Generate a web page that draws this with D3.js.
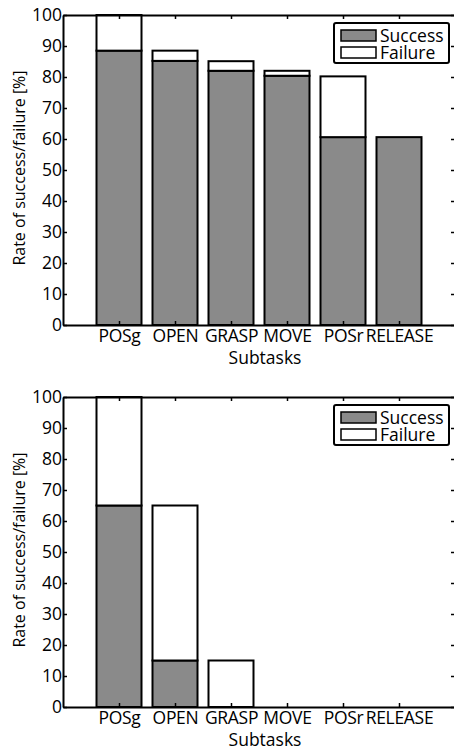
<!DOCTYPE html>
<html>
<head>
<meta charset="utf-8">
<script src="https://cdn.jsdelivr.net/npm/d3@7"></script>
<style>
  body { margin: 0; background: #fff; }
  text { font-family: "Open Sans", sans-serif; fill: #000; }
</style>
</head>
<body>
<svg id="canvas" width="454" height="751"></svg>
<script>
// subtasks on the x axis
let subtasks = ['POSg', 'OPEN', 'GRASP', 'MOVE', 'POSr', 'RELEASE']
let yTicks = [0, 10, 20, 30, 40, 50, 60, 70, 80, 90, 100]

// top panel
let successTop = [88.5, 85.2, 82, 80.4, 60.6, 60.6]
let failureTop = [11.5, 3.3, 3.1, 1.6, 19.6, 0]

// bottom panel
let successBottom = [65, 15, 0, 0, 0, 0]
let failureBottom = [35, 50, 15, 0, 0, 0]

let canvas = d3.select('#canvas')
let grey = '#8a8a8a'

let drawPanel = (top, success, failure) => {
    let left = 63, right = 455, height = 310
    let bottom = top + height

    let x = d3.scaleLinear().domain([0, 7]).range([left, right])
    let y = d3.scaleLinear().domain([0, 100]).range([bottom, top])

    let rows = subtasks.map((name, i) => {
        return { name: name, success: success[i], failure: failure[i] }
    })
    let stack = d3.stack().keys(['success', 'failure'])(rows)

    let g = canvas.append('g')
    let barW = 45

    // stacked bars, skip zero height ones
    stack.forEach((layer) => {
        g.selectAll(null)
         .data(layer.filter(d => d[1] - d[0] > 0))
         .enter()
         .append('rect')
         .attr('x', (d) => x(subtasks.indexOf(d.data.name) + 1) - barW / 2)
         .attr('y', (d) => y(d[1]))
         .attr('width', barW)
         .attr('height', (d) => y(d[0]) - y(d[1]))
         .attr('fill', layer.key == 'success' ? grey : '#fff')
         .attr('stroke', '#000')
         .attr('stroke-width', 2)
    })

    // axes, matlab style with ticks pointing inwards
    let xAxis = d3.axisBottom(x)
                  .tickValues([1, 2, 3, 4, 5, 6])
                  .tickFormat((d) => subtasks[d - 1])
                  .tickSizeInner(-4).tickSizeOuter(0)
    let gx = g.append('g').attr('transform', 'translate(0,' + bottom + ')').call(xAxis)
    gx.selectAll('text')
      .attr('y', 17).attr('dy', 0)
      .style('font-size', '17.5px')
      .style('letter-spacing', '-0.3px')

    let xTop = d3.axisTop(x).tickValues([1, 2, 3, 4, 5, 6]).tickFormat('')
                 .tickSizeInner(-4).tickSizeOuter(0)
    g.append('g').attr('transform', 'translate(0,' + top + ')').call(xTop)

    let yAxis = d3.axisLeft(y).tickValues(yTicks)
                  .tickSizeInner(-4).tickSizeOuter(0).tickPadding(1)
    let gy = g.append('g').attr('transform', 'translate(' + left + ',0)').call(yAxis)
    gy.selectAll('text').style('font-size', '17.5px')

    let yRight = d3.axisRight(y).tickValues(yTicks).tickFormat('')
                   .tickSizeInner(-4).tickSizeOuter(0)
    g.append('g').attr('transform', 'translate(' + right + ',0)').call(yRight)

    g.selectAll('.domain').attr('stroke', '#000').attr('stroke-width', 2)
    g.selectAll('.tick line').attr('stroke', '#000').attr('stroke-width', 1.5)

    // titles
    g.append('text')
     .attr('x', 265)
     .attr('y', bottom + 39)
     .attr('text-anchor', 'middle')
     .style('font-size', '17.5px')
     .text('Subtasks')

    g.append('text')
     .attr('transform', 'translate(25,' + (top + 153) + ') rotate(-90)')
     .attr('text-anchor', 'middle')
     .style('font-size', '16px')
     .text('Rate of success/failure [%]')

    // legend
    let legend = g.append('g').attr('transform', 'translate(334,' + (top + 8) + ')')
    legend.append('rect')
          .attr('width', 115).attr('height', 40).attr('rx', 2)
          .attr('fill', '#fff').attr('stroke', '#000').attr('stroke-width', 2)
    let items = [['Success', grey], ['Failure', '#fff']]
    items.forEach((item, i) => {
        legend.append('rect')
              .attr('x', 7).attr('y', 7 + i * 17)
              .attr('width', 35).attr('height', 11)
              .attr('fill', item[1]).attr('stroke', '#000').attr('stroke-width', 1.5)
        legend.append('text')
              .attr('x', 46).attr('y', 19 + i * 17)
              .style('font-size', '17.5px')
              .text(item[0])
    })
}

drawPanel(15, successTop, failureTop)
drawPanel(397, successBottom, failureBottom)
</script>
</body>
</html>
